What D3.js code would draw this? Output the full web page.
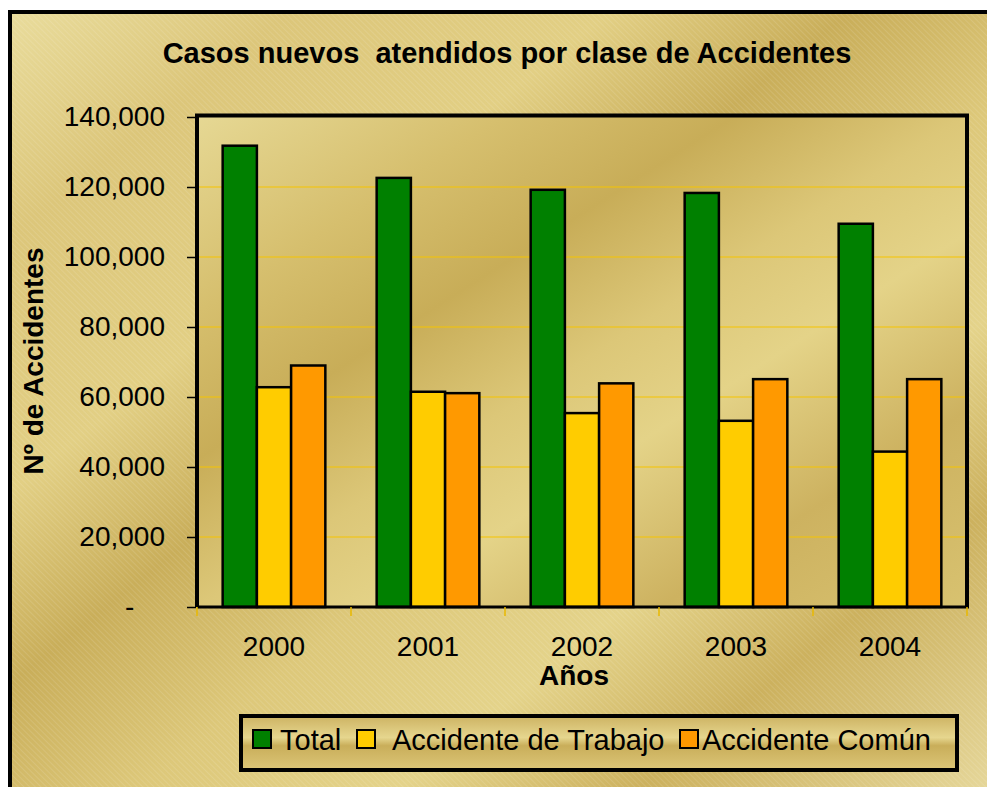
<!DOCTYPE html>
<html>
<head>
<meta charset="utf-8">
<script src="https://d3js.org/d3.v7.min.js"></script>
<style>
    body { margin: 0; background: #fff; }
    text { font-family: 'Liberation Sans', Arial, sans-serif; fill: #000; }
    .tick-label { font-size: 28px; }
    .bold { font-weight: bold; }
</style>
</head>
<body>
<svg width="987" height="787"></svg>
<script>
    // data
    var years = ["2000", "2001", "2002", "2003", "2004"];
    var seriesNames = ["Total", "Accidente de Trabajo", "Accidente Común"];
    var totalValues = [131800, 122600, 119200, 118300, 109500];
    var trabajoValues = [62800, 61500, 55400, 53200, 44400];
    var comunValues = [69000, 61100, 63900, 65100, 65100];
    var yTicks = [0, 20000, 40000, 60000, 80000, 100000, 120000, 140000];

    var seriesColors = ["#008000", "#FFCC00", "#FF9900"];
    var seriesValues = [totalValues, trabajoValues, comunValues];

    var data = years.map(function (y, i) {
        return { year: y, values: seriesValues.map(function (s) { return s[i]; }) };
    });

    var svg = d3.select("svg");
    var plot = { left: 197, right: 967, top: 117, bottom: 607 };

    var defs = svg.append("defs");

    function gold(id, stops, x2, y2) {
        var g = defs.append("linearGradient").attr("id", id)
            .attr("x1", 0).attr("y1", 0).attr("x2", x2).attr("y2", y2);
        stops.forEach(function (s) {
            g.append("stop").attr("offset", s[0]).attr("stop-color", s[1]);
        });
    }
    gold("bgGold", [[0, "#e9dc9c"], [0.14, "#dcc67a"], [0.3, "#e2cf84"], [0.42, "#c9ae5a"],
        [0.55, "#ddc87a"], [0.68, "#e4d38a"], [0.8, "#ccb15e"], [1, "#e9dca2"]], 1, 1);
    gold("plotGold", [[0, "#e6d894"], [0.2, "#d6bf6e"], [0.35, "#c8ad58"], [0.5, "#dcc778"],
        [0.62, "#e4d388"], [0.8, "#cdb260"], [1, "#d8c270"]], 1, 1);
    gold("legendGold", [[0, "#cdb363"], [0.4, "#e6d68e"], [0.55, "#c9ae5a"], [1, "#dcc678"]], 0, 1);

    var hatch = defs.append("pattern").attr("id", "hatch")
        .attr("patternUnits", "userSpaceOnUse").attr("width", 4).attr("height", 4)
        .attr("patternTransform", "rotate(-45)");
    hatch.append("line").attr("x1", 0).attr("y1", 0).attr("x2", 0).attr("y2", 4)
        .attr("stroke", "#fff").attr("stroke-opacity", 0.22).attr("stroke-width", 1);

    // chart area background + frame (extends past the picture on right/bottom)
    svg.append("rect").attr("x", 10).attr("y", 12).attr("width", 1000).attr("height", 800)
        .attr("fill", "url(#bgGold)");
    svg.append("rect").attr("x", 10).attr("y", 12).attr("width", 1000).attr("height", 800)
        .attr("fill", "url(#hatch)");
    svg.append("rect").attr("x", 10).attr("y", 12).attr("width", 1000).attr("height", 800)
        .attr("fill", "none").attr("stroke", "#000").attr("stroke-width", 4);

    var x0 = d3.scaleBand().domain(years).range([plot.left, plot.right]);
    var groupW = x0.bandwidth() * 3 / 4.5;
    var x1 = d3.scaleBand().domain(seriesNames).range([0, groupW]);
    var y = d3.scaleLinear().domain([0, 140000]).range([plot.bottom, plot.top]);

    // plot area
    svg.append("rect").attr("x", plot.left).attr("y", plot.top - 1.5)
        .attr("width", plot.right - plot.left).attr("height", plot.bottom - plot.top + 1.5)
        .attr("fill", "url(#plotGold)");

    svg.append("g").selectAll("line").data(yTicks.filter(function (d) { return d > 0 && d < 140000; }))
        .enter().append("line")
        .attr("x1", plot.left).attr("x2", plot.right)
        .attr("y1", function (d) { return y(d); }).attr("y2", function (d) { return y(d); })
        .attr("stroke", "#f5c400").attr("stroke-width", 1.2);

    // bars
    var groups = svg.append("g").selectAll("g").data(data).enter().append("g")
        .attr("transform", function (d) {
            return "translate(" + (x0(d.year) + (x0.bandwidth() - groupW) / 2) + ",0)";
        });
    groups.selectAll("rect").data(function (d) {
        return d.values.map(function (v, i) { return { name: seriesNames[i], value: v, color: seriesColors[i] }; });
    }).enter().append("rect")
        .attr("x", function (d) { return x1(d.name); })
        .attr("width", x1.bandwidth())
        .attr("y", function (d) { return y(d.value); })
        .attr("height", function (d) { return y(0) - y(d.value); })
        .attr("fill", function (d) { return d.color; })
        .attr("stroke", "#000").attr("stroke-width", 2.5);

    // plot frame: top, left, right thick; bottom is the axis
    svg.append("path")
        .attr("d", "M" + plot.left + "," + plot.bottom + "V" + (plot.top - 1.5) + "H" + plot.right + "V" + plot.bottom)
        .attr("fill", "none").attr("stroke", "#000").attr("stroke-width", 4);
    svg.append("line").attr("x1", plot.left).attr("x2", plot.right + 2)
        .attr("y1", plot.bottom).attr("y2", plot.bottom)
        .attr("stroke", "#000").attr("stroke-width", 3);

    // y axis
    var yAxis = svg.append("g").attr("transform", "translate(" + (plot.left - 1) + ",0)")
        .call(d3.axisLeft(y).tickValues(yTicks).tickSize(9).tickPadding(22)
            .tickFormat(function (d) { return d === 0 ? "-" : d3.format(",")(d); }));
    yAxis.select(".domain").remove();
    yAxis.selectAll(".tick line").attr("stroke", "#000").attr("stroke-width", 1.5);
    yAxis.selectAll(".tick text").attr("class", "tick-label").attr("fill", "#000")
        .attr("dx", function (d) { return d === 0 ? "-1.1em" : 0; });
    yAxis.attr("font-size", null).attr("font-family", null);

    // x axis
    var xAxis = svg.append("g").attr("transform", "translate(0," + (plot.bottom + 1) + ")")
        .call(d3.axisBottom(x0).tickSize(0).tickPadding(28));
    xAxis.select(".domain").remove();
    xAxis.selectAll(".tick text").attr("class", "tick-label").attr("fill", "#000");
    xAxis.attr("font-size", null).attr("font-family", null);

    svg.append("g").selectAll("line").data(years.concat(["end"])).enter().append("line")
        .attr("x1", function (d) { return d === "end" ? plot.right : x0(d); })
        .attr("x2", function (d) { return d === "end" ? plot.right : x0(d); })
        .attr("y1", plot.bottom).attr("y2", plot.bottom + 9)
        .attr("stroke", "#e8b800").attr("stroke-width", 1.5);

    // titles
    svg.append("text").attr("class", "bold").attr("x", 507).attr("y", 63)
        .attr("text-anchor", "middle").attr("font-size", 29)
        .style("white-space", "pre")
        .text("Casos nuevos  atendidos por clase de Accidentes");
    svg.append("text").attr("class", "bold").attr("x", 574).attr("y", 685)
        .attr("text-anchor", "middle").attr("font-size", 28).text("Años");
    svg.append("text").attr("class", "bold")
        .attr("transform", "translate(43,361) rotate(-90)")
        .attr("text-anchor", "middle").attr("font-size", 28).text("Nº de Accidentes");

    // legend
    var legend = svg.append("g");
    legend.append("rect").attr("x", 241).attr("y", 716).attr("width", 716).attr("height", 54)
        .attr("fill", "url(#legendGold)").attr("stroke", "#000").attr("stroke-width", 4);
    var legendX = [253, 357, 680];
    var legendTextX = [280, 392, 702];
    seriesNames.forEach(function (name, i) {
        legend.append("rect").attr("x", legendX[i]).attr("y", 730).attr("width", 18).attr("height", 18)
            .attr("fill", seriesColors[i]).attr("stroke", "#000").attr("stroke-width", 2);
        legend.append("text").attr("x", legendTextX[i]).attr("y", 750)
            .attr("font-size", 29).text(name);
    });
</script>
</body>
</html>
